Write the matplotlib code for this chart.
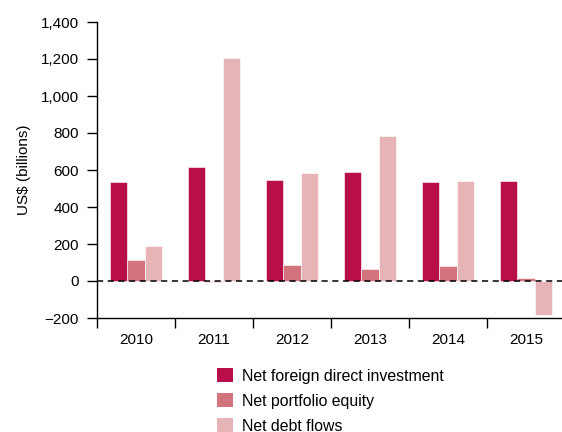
import matplotlib.pyplot as plt
import numpy as np
from matplotlib.patches import Patch

plt.rcParams.update({"font.family": ["Liberation Sans", "DejaVu Sans"], "font.size": 11})

years = ["2010", "2011", "2012", "2013", "2014", "2015"]
fdi = [537, 614, 548, 589, 533, 541]
portfolio = [115, -8, 88, 65, 79, 18]
debt = [191, 1205, 582, 785, 538, -184]

labels = ["Net foreign direct investment", "Net portfolio equity", "Net debt flows"]
colors = ["#b80f4a", "#d2737e", "#e6b4b7"]

fig = plt.figure(figsize=(5.62, 4.32), dpi=100)
ax = fig.add_axes([97 / 562, 1 - 318 / 432, 468 / 562, 296 / 432])

x = np.arange(len(years))
w = 0.22
for i, vals in enumerate([fdi, portfolio, debt]):
    ax.bar(x + (i - 1) * w, vals, width=w, color=colors[i],
           edgecolor="white", linewidth=0.4, zorder=2)

ax.axhline(0, color="black", linestyle=(0, (4, 3)), linewidth=1.1, zorder=3)

ax.set_xlim(-0.5, 5.5)
ax.set_ylim(-200, 1400)
ax.set_yticks(range(-200, 1401, 200))
ax.set_yticklabels([f"{v:,}".replace("-", "\u2212") for v in range(-200, 1401, 200)])
ax.set_xticks(x)
ax.set_xticklabels(years)
ax.set_xticks(np.arange(-0.5, 5.5, 1), minor=True)
ax.tick_params(axis="x", which="major", length=0, pad=11)
ax.tick_params(axis="x", which="minor", length=7, width=1, direction="out")
ax.tick_params(axis="y", length=7, width=1, direction="out", pad=6)

for s in ["top", "right"]:
    ax.spines[s].set_visible(False)
ax.spines["left"].set_linewidth(1)
ax.spines["bottom"].set_linewidth(1)

ax.set_ylabel("US$ (billions)", labelpad=7)

handles = [Patch(facecolor=c, edgecolor="none") for c in colors]
fig.legend(handles, labels, loc="upper left", bbox_to_anchor=(217 / 562, 1 - 368 / 432),
           frameon=False, handlelength=1.0, handleheight=1.0, handletextpad=0.55,
           labelspacing=0.6, fontsize=11.4, borderaxespad=0, borderpad=0)

fig.savefig("out.png", dpi=100)
